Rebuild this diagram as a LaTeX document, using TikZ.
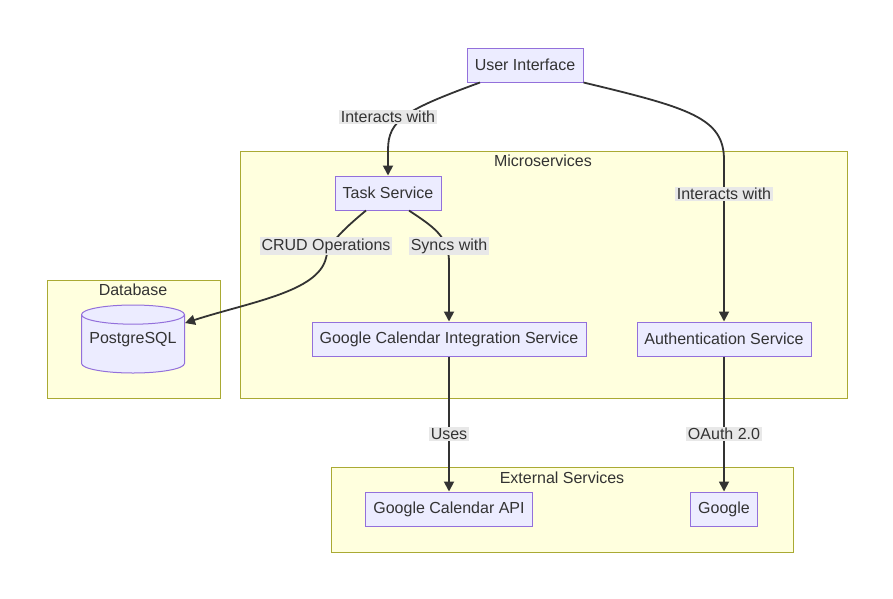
\documentclass[tikz,border=0pt]{standalone}
\usepackage{fontspec}
\setmainfont{Liberation Sans}
\usepackage{tikz}
\usetikzlibrary{positioning,calc,arrows.meta,shapes.geometric}
\definecolor{nodefill}{HTML}{ECECFF}
\definecolor{nodeline}{HTML}{9370DB}
\definecolor{clusterfill}{HTML}{FFFFDE}
\definecolor{clusterline}{HTML}{AAAA33}
\definecolor{edgecol}{HTML}{333333}
\definecolor{labelfill}{HTML}{E8E8E8}
\tikzstyle{service} = [draw=nodeline,fill=nodefill,line width=1pt,text=edgecol,inner sep=0pt,minimum height=34pt]
\tikzstyle{cluster} = [draw=clusterline,fill=clusterfill,line width=1pt]
\tikzstyle{clustertitle} = [text=edgecol,inner sep=0pt]
\tikzstyle{edge} = [draw=edgecol,line width=1.8pt,-{Triangle[length=10pt,width=10pt]}]
\tikzstyle{edgelabel} = [fill=labelfill,text=edgecol,inner sep=1.5pt]

\begin{document}
\begin{tikzpicture}[x=1pt,y=-1pt,font=\fontsize{16}{19}\selectfont]
    \useasboundingbox (0,0) rectangle (893,598);
    % clusters
    \draw[cluster] (240,151) rectangle (847,398);
    \node[clustertitle] (microtitle) at (543,161) {Microservices};
    \draw[cluster] (47,280) rectangle (220,398);
    \node[clustertitle] (dbtitle) at (133,290) {Database};
    \draw[cluster] (331,467) rectangle (793,552);
    \node[clustertitle] (exttitle) at (562,478) {External Services};
    % nodes
    \node[service,minimum width=116pt] (ui) at (525,65) {User Interface};
    \node[service,minimum width=106pt] (task) at (388,193) {Task Service};
    \node[service,minimum width=274pt] (gcis) at (449,339) {Google Calendar Integration Service};
    \node[service,minimum width=174pt] (auth) at (724,339) {Authentication Service};
    \node[cylinder,shape border rotate=90,aspect=0.22,draw=nodeline,fill=nodefill,line width=1pt,
          minimum width=103pt,minimum height=68pt,inner sep=0pt,anchor=shape center] (pg) at (133,339) {\phantom{PostgreSQL}};
    \node[text=edgecol] (pgtext) at (133,340) {PostgreSQL};
    \node[service,minimum width=167pt] (gapi) at (449,509) {Google Calendar API};
    \node[service,minimum width=67pt] (google) at (724,509) {Google};
    % edges
    \draw[edge] ([xshift=-45pt]ui.south) .. controls (405,110) and (388,120) .. (388,150) -- (task.north);
    \node[edgelabel] (l1) at (388,117) {Interacts with};
    \draw[edge] (ui.south east) .. controls (690,108) and (724,118) .. (724,160) -- (auth.north);
    \node[edgelabel] (l2) at (724,194) {Interacts with};
    \coordinate (pgin) at ($(pg.shape center)+(52,-16)$);
    \draw[edge] ([xshift=-22pt]task.south) .. controls (340,232) and (328,245) .. (326,258)
        .. controls (318,292) and (250,302) .. (pgin);
    \node[edgelabel] (l3) at (326,246) {CRUD Operations};
    \draw[edge] ([xshift=21pt]task.south) .. controls (432,226) and (449,236) .. (449,262) -- (gcis.north);
    \node[edgelabel] (l4) at (449,246) {Syncs with};
    \draw[edge] (gcis.south) -- (gapi.north);
    \node[edgelabel] (l5) at (449,434) {Uses};
    \draw[edge] (auth.south) -- (google.north);
    \node[edgelabel] (l6) at (724,434) {OAuth 2.0};
\end{tikzpicture}
\end{document}
